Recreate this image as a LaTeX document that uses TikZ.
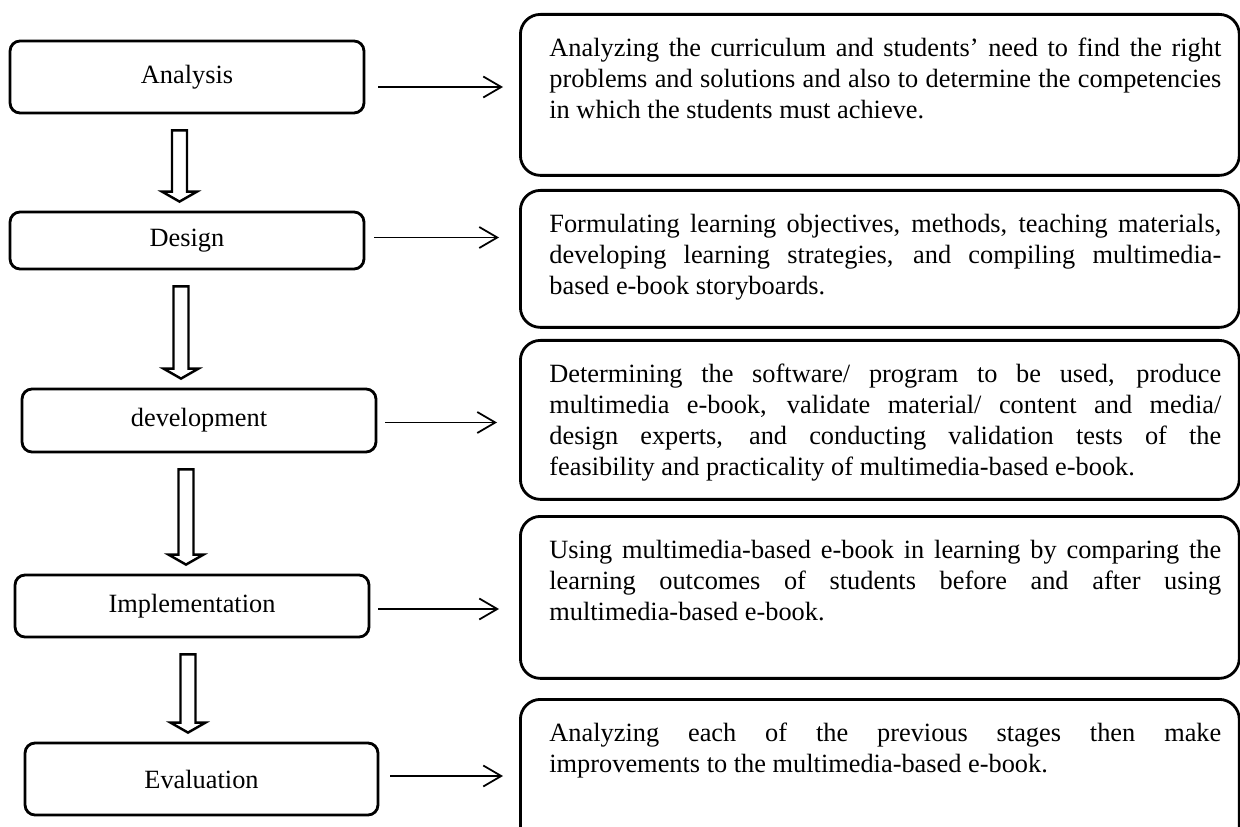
\documentclass[tikz,border=0pt]{standalone}
\usepackage{fontspec}
\setmainfont{Liberation Serif}
\usepackage{tikz}
\usetikzlibrary{arrows.meta,calc}

\newcommand{\stepfont}{\fontsize{15pt}{17.6pt}\selectfont}
% hollow block arrow between two stage boxes, #3 = x offset in px
\newcommand{\downblock}[3]{%
  \draw[blockarrow] let \p1=($(#1.south)+(#3,16)$), \p2=($(#2.north)+(0,-9)$) in
    (\x1-0.15cm,\y1) -- (\x1-0.15cm,\y2+0.2cm) -- (\x1-0.35cm,\y2+0.2cm) -- (\x1,\y2)
    -- (\x1+0.35cm,\y2+0.2cm) -- (\x1+0.15cm,\y2+0.2cm) -- (\x1+0.15cm,\y1) -- cycle;}

\tikzset{
  stagebox/.style={draw, rounded corners=0.2cm, line width=1.6pt,
    minimum width=7.08cm, inner sep=0pt, font=\stepfont},
  descbox/.style={draw, rounded corners=0.4cm, line width=1.6pt, anchor=north west,
    text width=13.66cm, align=justify, inner xsep=0.36cm, inner ysep=0.48cm,
    text height=0.36cm, font=\stepfont,
    execute at begin node={\leftskip=0.22cm\tolerance=10000\hyphenpenalty=10000\exhyphenpenalty=10000\relax}},
  linkarrow/.style={line width=1pt, -{Straight Barb[length=0.36cm, width=0.42cm]}},
  blockarrow/.style={line width=1.4pt}
}

\begin{document}
\begin{tikzpicture}[x=0.02cm, y=-0.02cm]
  \useasboundingbox (0,0) rectangle (1240,827);

  % stages
  \node[stagebox, minimum height=1.44cm] (analysis) at (187,77) {Analysis};
  \node[stagebox, minimum height=1.14cm] (design) at (187,240.5) {Design};
  \node[stagebox, minimum height=1.26cm] (development) at (199,420.5) {development};
  \node[stagebox, minimum height=1.24cm] (implementation) at (192,606) {Implementation};
  \node[stagebox, minimum width=7.06cm, minimum height=1.44cm] (evaluation) at (201.5,779) {Evaluation};

  % descriptions
  \node[descbox, text depth=1.90cm] (desc1) at (519,13) {Analyzing the curriculum and students' need to find the right\linebreak problems and solutions and also to determine the competencies\linebreak in which the students must achieve.};
  \node[descbox, text depth=1.42cm] (desc2) at (519,189) {Formulating learning objectives, methods, teaching materials,\linebreak developing learning strategies, and compiling multimedia-\linebreak based e-book storyboards.};
  \node[descbox, text depth=1.86cm] (desc3) at (519,339) {Determining the software/ program to be used, produce\linebreak multimedia e-book, validate material/ content and media/\linebreak design experts, and conducting validation tests of the\linebreak feasibility and practicality of multimedia-based e-book.};
  \node[descbox, text depth=1.92cm] (desc4) at (519,515) {Using multimedia-based e-book in learning by comparing the\linebreak learning outcomes of students before and after using\linebreak multimedia-based e-book.};
  \node[descbox, text depth=1.92cm] (desc5) at (519,698) {Analyzing each of the previous stages then make\linebreak improvements to the multimedia-based e-book.};

  % flow down
  \downblock{analysis}{design}{-7.5}
  \downblock{design}{development}{-6}
  \downblock{development}{implementation}{-13}
  \downblock{implementation}{evaluation}{-4}

  % stage to description
  \draw[linkarrow] ($(analysis.east)+(13,10)$) -- ($(analysis.east -| desc1.west)+(-16,10)$);
  \draw[linkarrow] ($(design.east)+(9,-3)$) -- ($(design.east -| desc2.west)+(-20,-3)$);
  \draw[linkarrow] ($(development.east)+(8,2)$) -- ($(development.east -| desc3.west)+(-22,2)$);
  \draw[linkarrow] ($(implementation.east)+(8,3)$) -- ($(implementation.east -| desc4.west)+(-20,3)$);
  \draw[linkarrow] ($(evaluation.east)+(11,-3)$) -- ($(evaluation.east -| desc5.west)+(-16,-3)$);
\end{tikzpicture}
\end{document}
